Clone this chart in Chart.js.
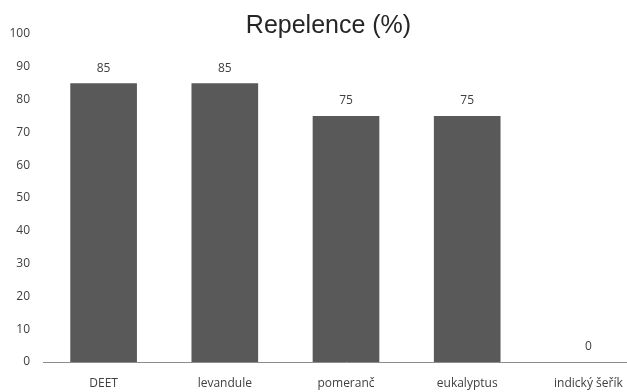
<!DOCTYPE html>
<html>
<head>
<meta charset="utf-8">
<script src="https://cdn.jsdelivr.net/npm/chart.js@4.4.1/dist/chart.umd.min.js"></script>
<style>
  html, body { margin: 0; padding: 0; background: #ffffff; overflow: hidden; }
  #wrap { width: 662px; height: 392px; }
</style>
</head>
<body>
<div id="wrap"><canvas id="c" width="662" height="392"></canvas></div>
<script>
// Repelence of individual repellents (%)
const categories = ['DEET', 'levandule', 'pomeranč', 'eukalyptus', 'indický šeřík'];
const repelence = [85, 85, 75, 75, 0];
const yTicks = [0, 10, 20, 30, 40, 50, 60, 70, 80, 90, 100];
const chartTitle = 'Repelence (%)';

// Writes each bar's value above it
const valueLabels = {
  id: 'valueLabels',
  afterDatasetsDraw(chart) {
    const ctx = chart.ctx;
    const meta = chart.getDatasetMeta(0);
    ctx.save();
    ctx.font = '12px "Open Sans", sans-serif';
    ctx.fillStyle = '#404040';
    ctx.textAlign = 'center';
    ctx.textBaseline = 'middle';
    meta.data.forEach((bar, i) => {
      ctx.fillText(String(repelence[i]), bar.x, bar.y - 15);
    });
    ctx.restore();
  }
};

new Chart(document.getElementById('c'), {
  type: 'bar',
  data: {
    labels: categories,
    datasets: [{
      data: repelence,
      backgroundColor: '#595959',
      borderWidth: 0,
      barPercentage: 0.55,
      categoryPercentage: 1.0
    }]
  },
  options: {
    responsive: false,
    animation: false,
    layout: { padding: { left: 8, right: 13, top: 0, bottom: 0 } },
    plugins: {
      legend: { display: false },
      tooltip: { enabled: false },
      title: {
        display: true,
        text: chartTitle,
        color: '#262626',
        font: { family: '"Liberation Sans", Arial, sans-serif', size: 25, weight: 'normal', lineHeight: 1.2 },
        padding: { top: 11, bottom: -7 }
      }
    },
    scales: {
      x: {
        grid: { display: false, drawTicks: false },
        border: { display: true, color: '#8c8c8c', width: 1 },
        afterFit(axis) { axis.height = 30; },
        ticks: {
          color: '#404040',
          padding: 14,
          maxRotation: 0,
          autoSkip: false,
          font: { family: '"Open Sans", sans-serif', size: 12 }
        }
      },
      y: {
        min: 0,
        max: 100,
        afterBuildTicks(axis) { axis.ticks = yTicks.map(v => ({ value: v })); },
        afterFit(axis) { axis.width = 35; },
        grid: { display: false, drawTicks: false },
        border: { display: false },
        ticks: {
          color: '#404040',
          padding: 13,
          font: { family: '"Open Sans", sans-serif', size: 12 }
        }
      }
    }
  },
  plugins: [valueLabels]
});
</script>
</body>
</html>
